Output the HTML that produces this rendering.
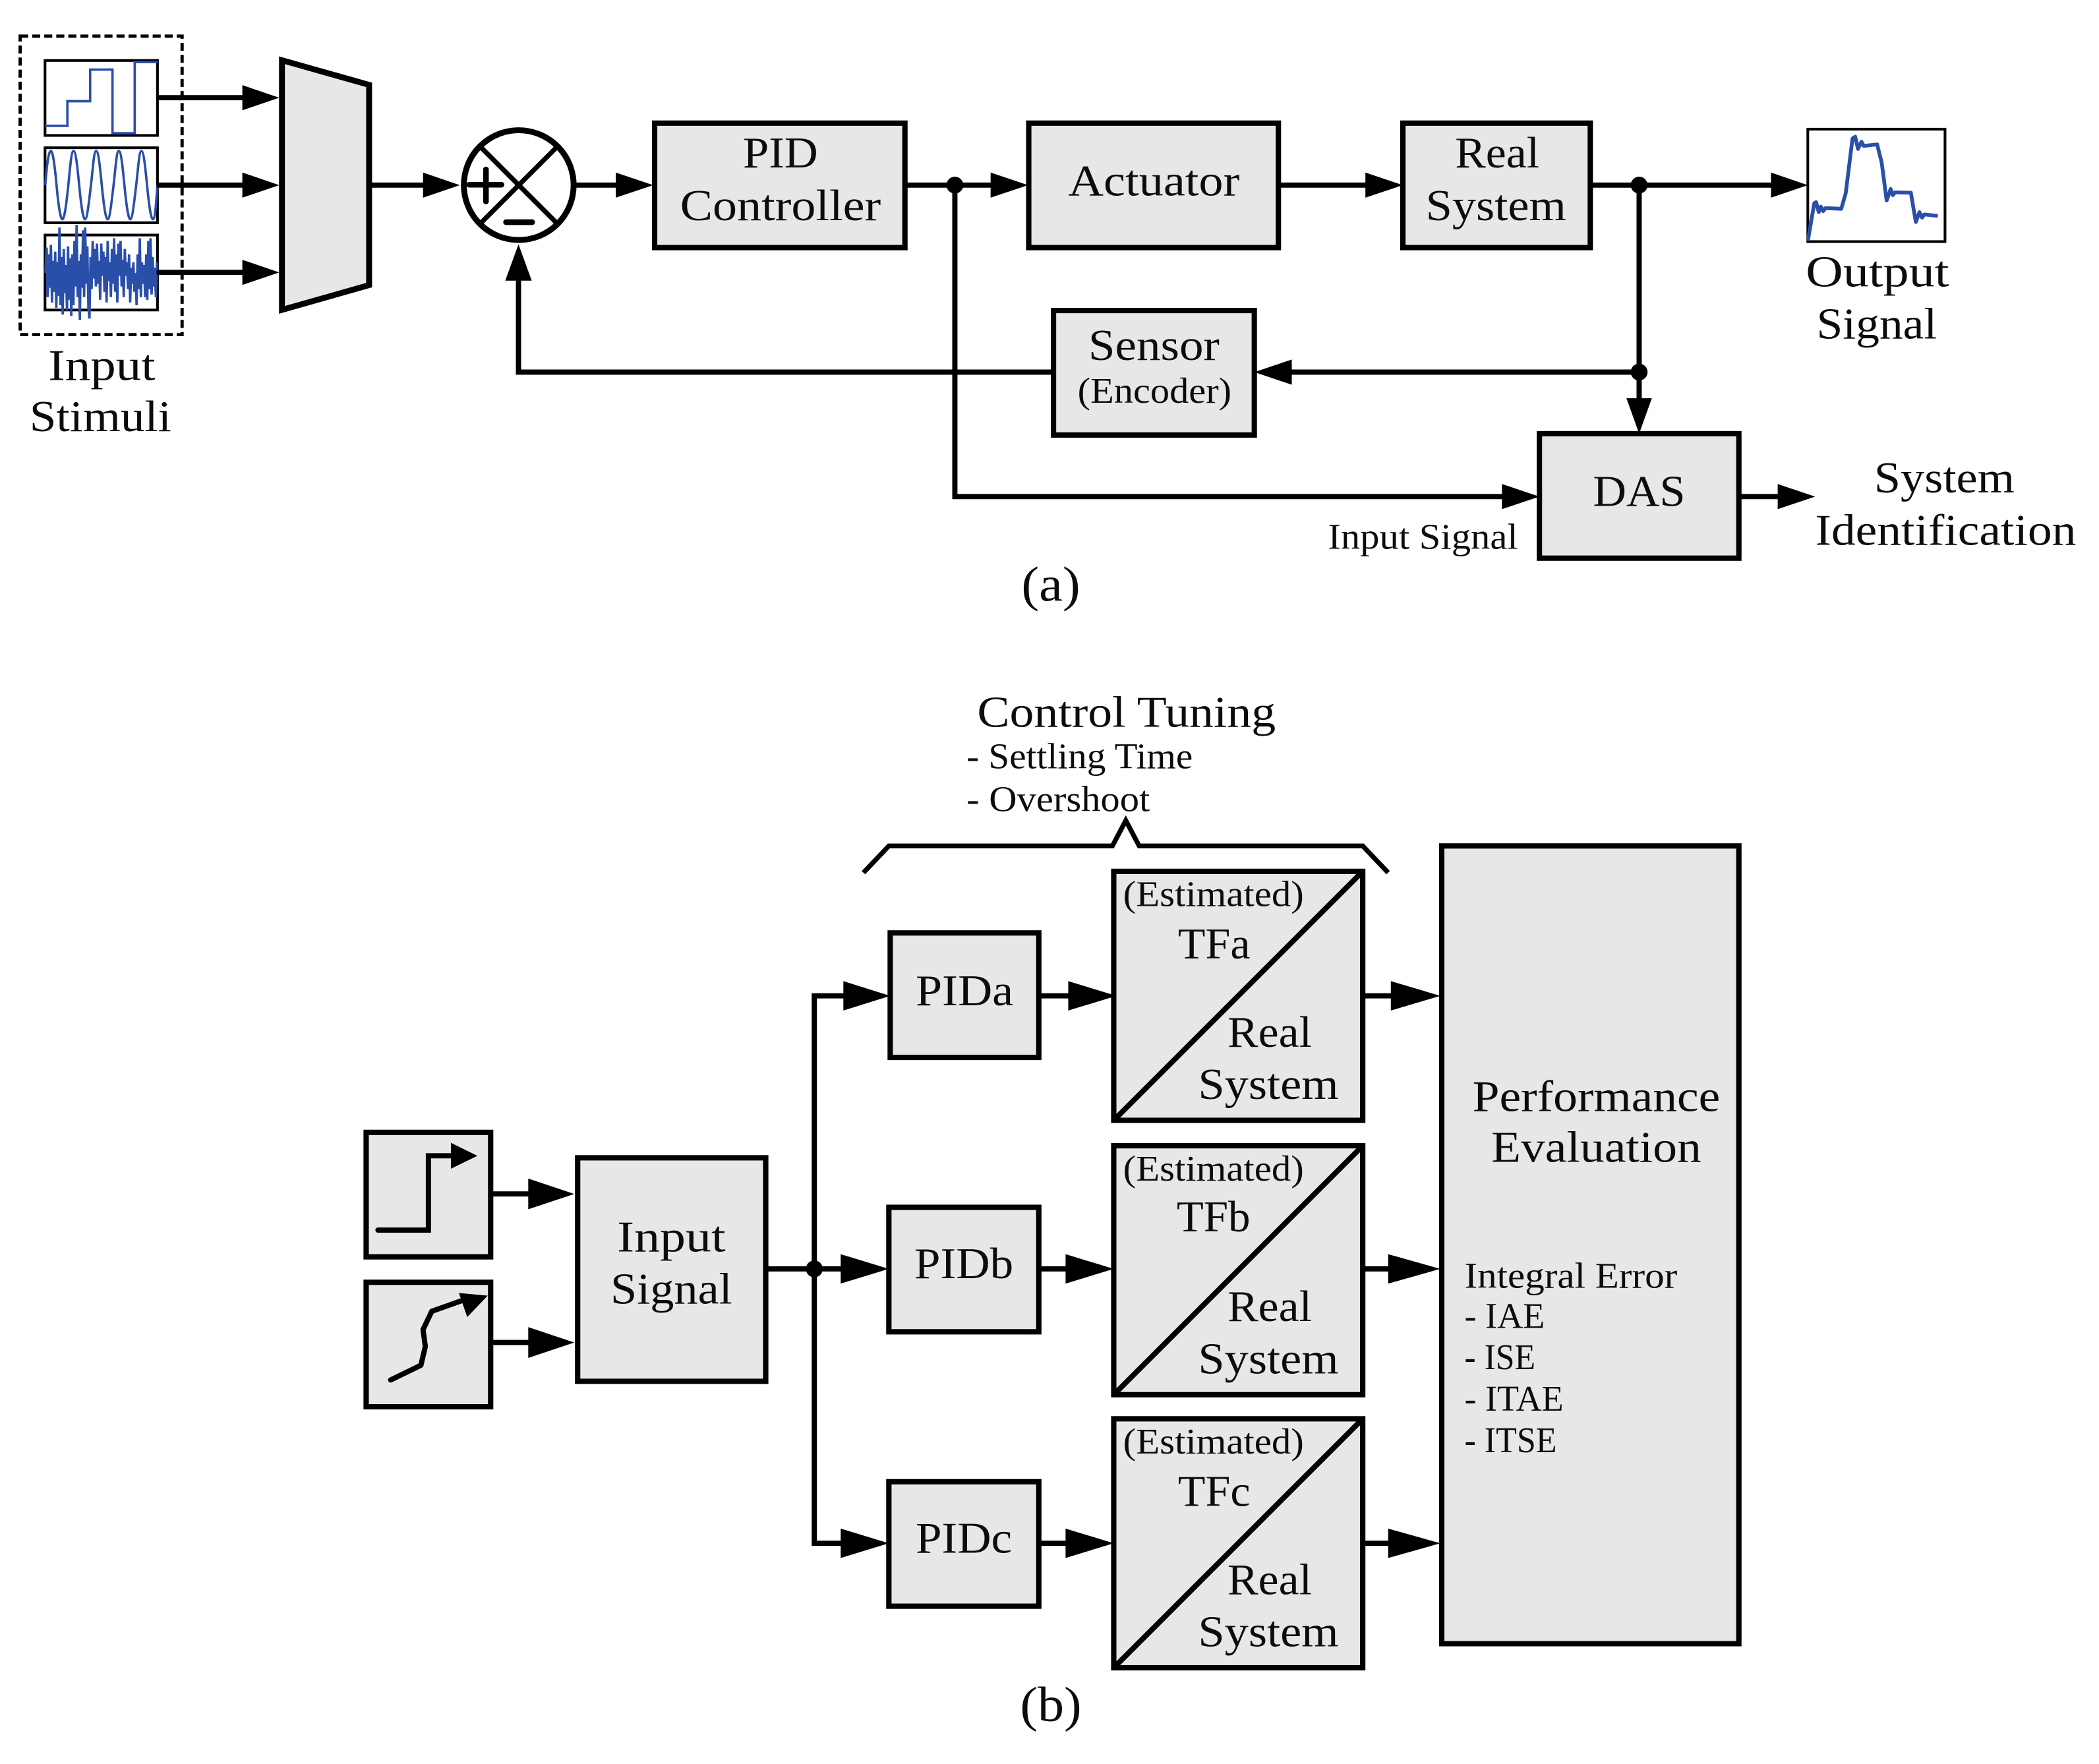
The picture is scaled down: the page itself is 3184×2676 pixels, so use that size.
<!DOCTYPE html>
<html>
<head>
<meta charset="utf-8">
<title>Control diagram</title>
<style>
html,body{margin:0;padding:0;background:#fff;}
svg{display:block;}
text{font-family:"Liberation Serif",serif;fill:#0c0c0c;}
.l{font-size:33px;}
.m{font-size:27px;}
.c{font-size:37px;}
.b{fill:#e6e7e7;stroke:#000;stroke-width:4;}
.w{fill:none;stroke:#000;stroke-width:3.9;stroke-linejoin:miter;}
.p{fill:#fff;stroke:#000;stroke-width:2;}
.s{fill:none;stroke:#2a4fa8;stroke-width:1.8;}
</style>
</head>
<body>
<svg xmlns="http://www.w3.org/2000/svg" width="3184" height="2676" viewBox="0 0 1568 1317.9">
<rect x="0" y="0" width="1568" height="1318" fill="#fff"/>

<!-- (a) stimuli -->
<rect x="15" y="27" width="121" height="223" fill="none" stroke="#000" stroke-width="2.4" stroke-dasharray="6 3"/>
<rect class="p" x="33.6" y="45.2" width="84" height="56"/>
<rect class="p" x="33.6" y="110.4" width="84" height="56"/>
<rect class="p" x="33.6" y="175.6" width="84" height="56"/>
<polyline class="s" points="33.6,94 50.3,94 50.3,75.6 67.3,75.6 67.3,52 84,52 84,99.5 100.6,99.5 100.6,46.4 117.6,46.4"/>
<path class="s" d="M33.8 138.3C35.2 120 36.5 112.8 38 112.8S41 125 42.2 138.3S45 163.8 46.6 163.8S49.8 150 51 138.3S53.2 112.8 54.9 112.8S57.8 125 59.1 138.3S61.9 163.8 63.5 163.8S66.5 150 67.9 138.3S70.1 112.8 71.8 112.8S74.7 125 76 138.3S78.8 163.8 80.4 163.8S83.4 150 84.8 138.3S87 112.8 88.7 112.8S91.6 125 92.9 138.3S95.7 163.8 97.3 163.8S100.3 150 101.7 138.3S103.9 112.8 105.6 112.8S108.5 125 109.8 138.3S112.6 163.8 114.2 163.8S116.6 152 117.6 138.3"/>
<path class="s" stroke-width="1.2" fill="#2a4fa8" fill-opacity="0.35" d="M34 204L34.8 185L35.6 222L36.4 190L37.2 215L38 183L38.8 226L39.6 195L40.4 218L41.2 188L42 230L42.8 196L43.6 221L44.4 170L45.2 228L46 192L46.8 235L47.6 186L48.4 219L49.2 198L50 232L50.8 184L51.6 224L52.4 193L53.2 236L54 190L54.8 228L55.6 180L56.4 214L57.2 168L58 222L58.8 195L59.6 239L60.4 190L61.2 215L62 172L62.8 222L63.6 170L64.4 212L65.2 184L66 230L66.8 238L67.6 192L68.4 216L69.2 180L70 208L70.8 186L71.6 214L72.4 182L73.2 212L74 195L74.8 224L75.6 182L76.4 206L77.2 188L78 218L78.8 192L79.6 226L80.4 180L81.2 210L82 196L82.8 222L83.6 186L84.4 212L85.2 178L86 218L86.8 190L87.6 226L88.4 182L89.2 206L90 180L90.8 214L91.6 194L92.4 222L93.2 186L94 206L94.8 196L95.6 216L96.4 190L97.2 226L98 200L98.8 212L99.6 196L100.4 218L101.2 204L102 228L102.8 190L103.6 216L104.4 178L105.2 222L106 196L106.8 212L107.6 198L108.4 222L109.2 190L110 224L110.8 180L111.6 216L112.4 178L113.2 220L114 192L114.8 214L115.6 200L116.4 222L117.2 196"/>

<polyline class="w" points="117,73 185,73"/>
<polyline class="w" points="117,138.3 185,138.3"/>
<polyline class="w" points="117,203.5 185,203.5"/>
<polygon points="181,63.6 208.6,73 181,82.4"/>
<polygon points="181,128.9 208.6,138.3 181,147.7"/>
<polygon points="181,194.1 208.6,203.5 181,212.9"/>

<polygon points="210.6,45 275.7,63.4 275.7,213 210.6,231.5" fill="#e6e7e7" stroke="#000" stroke-width="4.4"/>

<polyline class="w" points="275.7,138.3 320,138.3"/>
<polygon points="316,128.9 343.5,138.3 316,147.7"/>

<!-- summing junction -->
<circle cx="387.5" cy="138.3" r="41" fill="#fff" stroke="#000" stroke-width="4.4"/>
<line x1="358.5" y1="109.3" x2="416.5" y2="167.3" stroke="#000" stroke-width="3.6"/>
<line x1="416.5" y1="109.3" x2="358.5" y2="167.3" stroke="#000" stroke-width="3.6"/>
<line x1="350.6" y1="138" x2="374.6" y2="138" stroke="#000" stroke-width="4.2" stroke-linecap="round"/>
<line x1="363" y1="126.6" x2="363" y2="150.5" stroke="#000" stroke-width="4.2" stroke-linecap="round"/>
<line x1="378" y1="166" x2="397.5" y2="166" stroke="#000" stroke-width="4.2" stroke-linecap="round"/>

<polyline class="w" points="430,138.3 465,138.3"/>
<polygon points="460,128.9 488,138.3 460,147.7"/>

<polyline class="w" points="787,278 387.3,278 387.3,205"/>
<polygon points="377.4,209.7 387.3,182.5 397.2,209.7"/>

<!-- top blocks -->
<rect class="b" x="489" y="92" width="187" height="93"/>
<rect class="b" x="768.5" y="92" width="186.5" height="93"/>
<rect class="b" x="1048" y="92" width="140" height="93"/>
<rect class="b" x="787" y="232" width="150" height="93"/>
<rect class="b" x="1150" y="324" width="149" height="93"/>

<polyline class="w" points="676,138.3 745,138.3"/>
<polygon points="740,128.9 768,138.3 740,147.7"/>
<circle cx="713.3" cy="138.3" r="6.3"/>
<polyline class="w" points="713.3,138.3 713.3,371 1125,371"/>
<polygon points="1122,361.6 1150,371 1122,380.4"/>

<polyline class="w" points="955,138.3 1025,138.3"/>
<polygon points="1020,128.9 1048,138.3 1020,147.7"/>

<polyline class="w" points="1188,138.3 1328,138.3"/>
<polygon points="1323,128.9 1350.5,138.3 1323,147.7"/>
<circle cx="1224.5" cy="138.3" r="6.3"/>
<polyline class="w" points="1224.5,138.3 1224.5,302"/>
<polygon points="1215,297.5 1224.5,324 1234,297.5"/>
<circle cx="1224.5" cy="278" r="6.3"/>
<polyline class="w" points="1224.5,278 960,278"/>
<polygon points="965,268.6 937,278 965,287.4"/>

<polyline class="w" points="1299,371 1332,371"/>
<polygon points="1328,361.6 1356,371 1328,380.4"/>

<!-- output plot -->
<rect x="1350.5" y="96.5" width="102.5" height="84" fill="#fff" stroke="#000" stroke-width="2"/>
<polyline fill="none" stroke="#2a4fa8" stroke-width="2.8" stroke-linejoin="round" points="1350.6,179.8 1355.3,151.9 1356.7,151 1358.7,158.5 1360.3,154.4 1362,157.7 1363.7,155.5 1375.5,156 1378.8,144.5 1383.9,103.5 1385.9,102.1 1388,111.3 1390.6,105.9 1392.3,109 1402.3,107.9 1405.7,121.5 1409.4,149.8 1412.4,141.2 1414,145.8 1415.7,143.7 1427.5,144 1431.2,165.9 1433.9,158.5 1435.9,162.6 1437.5,160.2 1447.6,161.3"/>

<!-- (a) text -->
<text class="l" x="36" y="284" textLength="80" lengthAdjust="spacingAndGlyphs">Input</text>
<text class="l" x="22" y="322" textLength="106" lengthAdjust="spacingAndGlyphs">Stimuli</text>
<text class="l" x="555" y="125" textLength="56" lengthAdjust="spacingAndGlyphs">PID</text>
<text class="l" x="508" y="164.5" textLength="150" lengthAdjust="spacingAndGlyphs">Controller</text>
<text class="l" x="798" y="146" textLength="128" lengthAdjust="spacingAndGlyphs">Actuator</text>
<text class="l" x="1087" y="125" textLength="63" lengthAdjust="spacingAndGlyphs">Real</text>
<text class="l" x="1065" y="164.5" textLength="105" lengthAdjust="spacingAndGlyphs">System</text>
<text class="l" x="1349" y="214" textLength="107" lengthAdjust="spacingAndGlyphs">Output</text>
<text class="l" x="1357" y="253" textLength="90" lengthAdjust="spacingAndGlyphs">Signal</text>
<text class="l" x="813" y="269" textLength="98" lengthAdjust="spacingAndGlyphs">Sensor</text>
<text class="m" x="805" y="301" textLength="115" lengthAdjust="spacingAndGlyphs">(Encoder)</text>
<text class="l" x="1190" y="378" textLength="69" lengthAdjust="spacingAndGlyphs">DAS</text>
<text class="l" x="1400" y="368" textLength="105" lengthAdjust="spacingAndGlyphs">System</text>
<text class="l" x="1356" y="407" textLength="195" lengthAdjust="spacingAndGlyphs">Identification</text>
<text class="m" x="992" y="410" textLength="142" lengthAdjust="spacingAndGlyphs">Input Signal</text>
<text class="c" x="763" y="449" textLength="44" lengthAdjust="spacingAndGlyphs">(a)</text>

<!-- (b) -->
<text class="l" x="730" y="543" textLength="223" lengthAdjust="spacingAndGlyphs">Control Tuning</text>
<text class="m" x="722" y="574" textLength="169" lengthAdjust="spacingAndGlyphs">- Settling Time</text>
<text class="m" x="722" y="606" textLength="137" lengthAdjust="spacingAndGlyphs">- Overshoot</text>
<polyline fill="none" stroke="#000" stroke-width="3.6" points="645,652 664,632 831,632 841,613 851,632 1018,632 1037,652"/>

<rect class="b" x="273.5" y="846" width="93" height="93"/>
<rect class="b" x="273.5" y="958" width="93" height="93"/>
<rect class="b" x="431.5" y="865" width="140.5" height="167"/>
<polyline fill="none" stroke="#000" stroke-width="3.9" stroke-linecap="round" points="282.3,919 320,919 320,863.5 340,863.5"/>
<polygon points="336.8,853.8 356.6,863.5 336.8,873.2"/>
<polyline fill="none" stroke="#000" stroke-width="3.9" stroke-linecap="round" stroke-linejoin="round" points="291.8,1031 314.4,1020 317.7,1006 316,993.4 322.5,979.7 347,971"/>
<polygon points="342.8,966 364.3,968 349,984"/>

<polyline class="w" points="367,892 400,892"/>
<polygon points="394.6,880.5 429,892 394.6,903.5"/>
<polyline class="w" points="367,1003 400,1003"/>
<polygon points="394.6,991.5 429,1003 394.6,1014.5"/>

<polyline class="w" points="572,948 635,948"/>
<circle cx="608.3" cy="948" r="6.3"/>
<polyline class="w" points="635,744 608.3,744 608.3,1153 635,1153"/>
<polygon points="630,733 665,744 630,755"/>
<polygon points="628,937 664,948 628,959"/>
<polygon points="628,1142 664,1153 628,1164"/>

<rect class="b" x="665" y="697" width="111" height="93"/>
<rect class="b" x="664" y="902" width="112" height="93"/>
<rect class="b" x="664" y="1107" width="112" height="93"/>

<polyline class="w" points="776,744 802,744"/>
<polygon points="798,733 834,744 798,755"/>
<polyline class="w" points="776,948 802,948"/>
<polygon points="796,937 832,948 796,959"/>
<polyline class="w" points="776,1153 802,1153"/>
<polygon points="796,1142 832,1153 796,1164"/>

<rect class="b" x="832" y="651" width="186" height="186"/>
<line x1="833" y1="836" x2="1017" y2="652" stroke="#000" stroke-width="4"/>
<rect class="b" x="832" y="856" width="186" height="186"/>
<line x1="833" y1="1041" x2="1017" y2="857" stroke="#000" stroke-width="4"/>
<rect class="b" x="832" y="1060" width="186" height="186"/>
<line x1="833" y1="1245" x2="1017" y2="1061" stroke="#000" stroke-width="4"/>

<polyline class="w" points="1018,744 1044,744"/>
<polygon points="1039,733 1076,744 1039,755"/>
<polyline class="w" points="1018,948 1042,948"/>
<polygon points="1037,937 1076,948 1037,959"/>
<polyline class="w" points="1018,1153 1042,1153"/>
<polygon points="1037,1142 1076,1153 1037,1164"/>

<rect class="b" x="1077" y="632" width="222" height="596"/>

<text class="l" x="461" y="935" textLength="81" lengthAdjust="spacingAndGlyphs">Input</text>
<text class="l" x="456" y="974" textLength="91" lengthAdjust="spacingAndGlyphs">Signal</text>

<text class="l" x="684" y="751" textLength="73" lengthAdjust="spacingAndGlyphs">PIDa</text>
<text class="l" x="683" y="955" textLength="74" lengthAdjust="spacingAndGlyphs">PIDb</text>
<text class="l" x="684" y="1160" textLength="72" lengthAdjust="spacingAndGlyphs">PIDc</text>

<text class="m" x="839" y="677" textLength="135" lengthAdjust="spacingAndGlyphs">(Estimated)</text>
<text class="l" x="880" y="716" textLength="54" lengthAdjust="spacingAndGlyphs">TFa</text>
<text class="l" x="917" y="782" textLength="63" lengthAdjust="spacingAndGlyphs">Real</text>
<text class="l" x="895" y="821" textLength="105" lengthAdjust="spacingAndGlyphs">System</text>

<text class="m" x="839" y="882" textLength="135" lengthAdjust="spacingAndGlyphs">(Estimated)</text>
<text class="l" x="879" y="920" textLength="55" lengthAdjust="spacingAndGlyphs">TFb</text>
<text class="l" x="917" y="987" textLength="63" lengthAdjust="spacingAndGlyphs">Real</text>
<text class="l" x="895" y="1026" textLength="105" lengthAdjust="spacingAndGlyphs">System</text>

<text class="m" x="839" y="1086" textLength="135" lengthAdjust="spacingAndGlyphs">(Estimated)</text>
<text class="l" x="880" y="1125" textLength="54" lengthAdjust="spacingAndGlyphs">TFc</text>
<text class="l" x="917" y="1191" textLength="63" lengthAdjust="spacingAndGlyphs">Real</text>
<text class="l" x="895" y="1230" textLength="105" lengthAdjust="spacingAndGlyphs">System</text>

<text class="l" x="1100" y="830" textLength="185" lengthAdjust="spacingAndGlyphs">Performance</text>
<text class="l" x="1114" y="868" textLength="157" lengthAdjust="spacingAndGlyphs">Evaluation</text>
<text class="m" x="1094" y="962" textLength="159" lengthAdjust="spacingAndGlyphs">Integral Error</text>
<text class="m" x="1094" y="992" textLength="60" lengthAdjust="spacingAndGlyphs">- IAE</text>
<text class="m" x="1094" y="1023" textLength="53" lengthAdjust="spacingAndGlyphs">- ISE</text>
<text class="m" x="1094" y="1054" textLength="74" lengthAdjust="spacingAndGlyphs">- ITAE</text>
<text class="m" x="1094" y="1085" textLength="69" lengthAdjust="spacingAndGlyphs">- ITSE</text>

<text class="c" x="762" y="1286" textLength="46" lengthAdjust="spacingAndGlyphs">(b)</text>
</svg>
</body>
</html>
